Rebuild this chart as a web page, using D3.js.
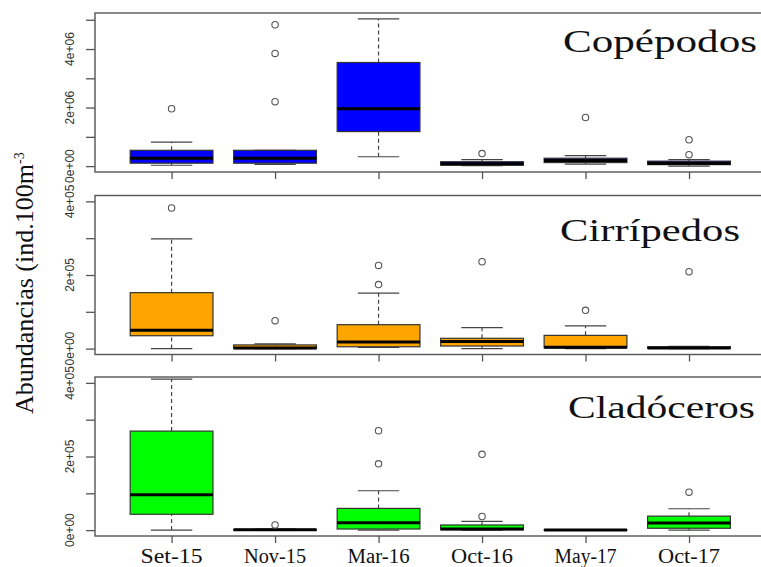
<!DOCTYPE html>
<html>
<meta charset="utf-8">
<head>
	<script src="https://d3js.org/d3.v7.min.js"></script>
	<style>
		body { margin: 0; background: #fff; }
		.frame { fill: none; stroke: #555; stroke-width: 1.4px; }
		.tick line { stroke: #555; stroke-width: 1.3px; }
		.ylab { font-family: "Liberation Sans", Arial, sans-serif; font-size: 12px; fill: #333; }
		.xlab { font-family: "Liberation Serif", "Times New Roman", serif; font-size: 20px; fill: #111; }
		.title { font-family: "Liberation Serif", "Times New Roman", serif; font-size: 31px; fill: #111; }
		.whisker { stroke: #444; stroke-width: 1.2px; stroke-dasharray: 4,3; }
		.cap { stroke: #444; stroke-width: 1.2px; }
		.box { stroke: #333; stroke-width: 1.2px; }
		.median { stroke: #000; stroke-width: 3px; }
		.out { fill: none; stroke: #555; stroke-width: 1.1px; }
	</style>
</head>
<body>
<script>
	var width = 761,
			height = 567;

	var months = ["Set-15", "Nov-15", "Mar-16", "Oct-16", "May-17", "Oct-17"];
	var groups = ["Copépodos", "Cirrípedos", "Cladóceros"];
	var fills = ["#0000ff", "#ffa500", "#00ff00"];
	var yLimits = [[0, 5030000], [0, 400000], [0, 400000]];
	var yTicks = [[0, 1e6, 2e6, 3e6, 4e6, 5e6], [0, 1e5, 2e5, 3e5, 4e5], [0, 1e5, 2e5, 3e5, 4e5]];
	var yTickLabels = [["0e+00", "", "2e+06", "", "4e+06", ""],
		["0e+00", "", "2e+05", "", "4e+05"],
		["0e+00", "", "2e+05", "", "4e+05"]];

	// lower whisker, q1, median, q3, upper whisker for each month
	var copepodos = [
		[30000, 100000, 270000, 540000, 820000],
		[60000, 100000, 270000, 540000, 540000],
		[320000, 1180000, 1960000, 3540000, 5030000],
		[20000, 30000, 80000, 150000, 220000],
		[70000, 120000, 190000, 270000, 360000],
		[0, 50000, 100000, 170000, 220000]
	];
	var copepodosOut = [[1960000], [2200000, 3850000, 4830000], [], [430000], [1660000], [390000, 900000]];

	var cirripedos = [
		[0, 35000, 50000, 152000, 298000],
		[0, 0, 2000, 10000, 13000],
		[3000, 5000, 18000, 65000, 151000],
		[0, 7000, 19000, 28000, 57000],
		[0, 2000, 4000, 36000, 62000],
		[0, 1000, 2000, 5000, 6000]
	];
	var cirripedosOut = [[382000], [76000], [174000, 226000], [236000], [104000], [209000]];

	var cladoceros = [
		[0, 43000, 96000, 269000, 410000],
		[0, 0, 1000, 2000, 3000],
		[0, 3000, 20000, 59000, 107000],
		[0, 1000, 3000, 14000, 24000],
		[0, 0, 0, 1000, 1000],
		[0, 5000, 19000, 38000, 58000]
	];
	var cladocerosOut = [[], [14000], [180000, 270000], [37000, 206000], [], [103000]];

	var stats = [copepodos, cirripedos, cladoceros];
	var outliers = [copepodosOut, cirripedosOut, cladocerosOut];

	var panelTops = [13, 195.5, 377],
			panelH = 159,
			left = 95;

	var svg = d3.select("body").append("svg")
		.attr("width", width)
		.attr("height", height);

	// R style x range: positions 1..n, padded by half a box then 4%
	var x = d3.scaleLinear()
		.domain([0.26, 6.74])
		.range([left, 765.6]);
	var unit = x(2) - x(1);
	var boxW = unit * 0.8;

	groups.forEach(function(name, p) {
		var lim = yLimits[p];
		var pad = (lim[1] - lim[0]) * 0.04;
		var y = d3.scaleLinear()
			.domain([lim[0] - pad, lim[1] + pad])
			.range([panelTops[p] + panelH, panelTops[p]]);

		var g = svg.append("g");

		// y axis
		var yAxis = d3.axisLeft(y)
			.tickValues(yTicks[p])
			.tickSize(9)
			.tickFormat("");
		var ya = g.append("g")
			.attr("transform", "translate(" + left + ",0)")
			.call(yAxis);
		ya.select(".domain").remove();

		g.selectAll(".ylab.p" + p)
			.data(yTicks[p])
			.enter().append("text")
			.attr("class", "ylab")
			.attr("text-anchor", "middle")
			.attr("transform", function(d) { return "translate(74," + y(d) + ") rotate(-90)"; })
			.text(function(d, i) { return yTickLabels[p][i]; });

		// x axis ticks
		var xAxis = d3.axisBottom(x)
			.tickValues([1, 2, 3, 4, 5, 6])
			.tickSize(7)
			.tickFormat("");
		var xa = g.append("g")
			.attr("transform", "translate(0," + (panelTops[p] + panelH) + ")")
			.call(xAxis);
		xa.select(".domain").remove();

		// boxes
		var data = stats[p].map(function(s, i) { return {s: s, i: i + 1, out: outliers[p][i]}; });
		var b = g.selectAll(".bp")
			.data(data)
			.enter().append("g");

		b.append("line")
			.attr("class", "whisker")
			.attr("x1", function(d) { return x(d.i); })
			.attr("x2", function(d) { return x(d.i); })
			.attr("y1", function(d) { return y(d.s[3]); })
			.attr("y2", function(d) { return y(d.s[4]); });
		b.append("line")
			.attr("class", "whisker")
			.attr("x1", function(d) { return x(d.i); })
			.attr("x2", function(d) { return x(d.i); })
			.attr("y1", function(d) { return y(d.s[0]); })
			.attr("y2", function(d) { return y(d.s[1]); });
		[0, 4].forEach(function(k) {
			b.append("line")
				.attr("class", "cap")
				.attr("x1", function(d) { return x(d.i) - boxW / 4; })
				.attr("x2", function(d) { return x(d.i) + boxW / 4; })
				.attr("y1", function(d) { return y(d.s[k]); })
				.attr("y2", function(d) { return y(d.s[k]); });
		});
		b.append("rect")
			.attr("class", "box")
			.attr("fill", fills[p])
			.attr("x", function(d) { return x(d.i) - boxW / 2; })
			.attr("width", boxW)
			.attr("y", function(d) { return y(d.s[3]); })
			.attr("height", function(d) { return Math.max(0, y(d.s[1]) - y(d.s[3])); });
		b.append("line")
			.attr("class", "median")
			.attr("x1", function(d) { return x(d.i) - boxW / 2; })
			.attr("x2", function(d) { return x(d.i) + boxW / 2; })
			.attr("y1", function(d) { return y(d.s[2]); })
			.attr("y2", function(d) { return y(d.s[2]); });
		b.selectAll(".out")
			.data(function(d) { return d.out.map(function(v) { return {v: v, i: d.i}; }); })
			.enter().append("circle")
			.attr("class", "out")
			.attr("cx", function(d) { return x(d.i); })
			.attr("cy", function(d) { return y(d.v); })
			.attr("r", 3.2);

		// frame
		g.append("rect")
			.attr("class", "frame")
			.attr("x", left)
			.attr("y", panelTops[p])
			.attr("width", 765.6 - left)
			.attr("height", panelH);

		// group name
		g.append("text")
			.attr("class", "title")
			.attr("x", [563, 560, 568][p])
			.attr("y", panelTops[p] + [39, 45, 41][p])
			.attr("textLength", [194, 180, 187][p])
			.attr("lengthAdjust", "spacingAndGlyphs")
			.text(name);
	});

	// month labels
	svg.selectAll(".xlab")
		.data(months)
		.enter().append("text")
		.attr("class", "xlab")
		.attr("text-anchor", "middle")
		.attr("x", function(d, i) { return x(i + 1); })
		.attr("y", 563)
		.attr("textLength", 62)
		.attr("lengthAdjust", "spacingAndGlyphs")
		.text(function(d) { return d; });

	// y axis title
	var yt = svg.append("text")
		.attr("class", "title")
		.attr("transform", "translate(33,414) rotate(-90)")
		.style("font-size", "25px")
		.attr("text-anchor", "start");
	yt.append("tspan")
		.attr("textLength", 250)
		.attr("lengthAdjust", "spacingAndGlyphs")
		.text("Abundancias (ind.100m");
	yt.append("tspan")
		.attr("dy", -9)
		.style("font-size", "14px")
		.text("-3");
</script>
</body>
</html>
